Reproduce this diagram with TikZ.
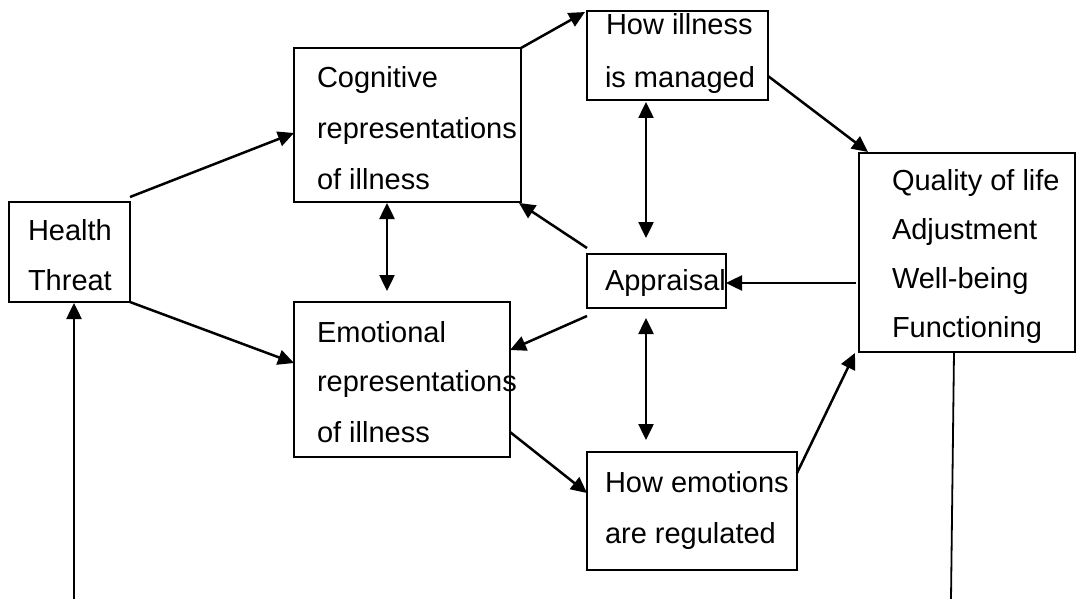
\documentclass[tikz,border=0pt]{standalone}
\usepackage{fontspec}
\setmainfont{Liberation Sans}
\usetikzlibrary{arrows.meta,calc}

\begin{document}
\begin{tikzpicture}[x=1pt,y=-1pt,
  box/.style={draw=black, line width=2pt, inner sep=0pt, outer sep=0pt,
              rectangle, anchor=north west},
  lbl/.style={anchor=base west, inner sep=0pt, outer sep=0pt,
              font=\fontsize{29}{35}\selectfont},
  tip/.style={Triangle[length=16pt,width=15pt]},
  link/.style={line width=2.5pt, -{Triangle[length=16pt,width=15pt]}},
  both/.style={line width=2.5pt, {Triangle[length=16pt,width=15pt]}-{Triangle[length=16pt,width=15pt]}},
  plain/.style={line width=1.8pt}]
\useasboundingbox (0,0) rectangle (1076,599);

% boxes
\node[box, minimum width=121pt, minimum height=100pt] (ht)  at (9,202)   {};
\node[box, minimum width=227pt, minimum height=154pt] (cog) at (294,48)  {};
\node[box, minimum width=216pt, minimum height=155pt] (emo) at (294,302) {};
\node[box, minimum width=181pt, minimum height=89pt]  (ill) at (587,11)  {};
\node[box, minimum width=139pt, minimum height=54pt]  (app) at (587,254) {};
\node[box, minimum width=216pt, minimum height=199pt] (qol) at (859,153) {};
\node[box, minimum width=210pt, minimum height=118pt] (emr) at (587,452) {};

% box texts
\node[lbl] (htA) at (28,240) {Health};
\node[lbl] (htB) at (28,290) {Threat};

\node[lbl] (cogA) at (317,88)  {Cognitive};
\node[lbl] (cogB) at (317,139) {representations};
\node[lbl] (cogC) at (317,189) {of illness};

\node[lbl] (emoA) at (317,342) {Emotional};
\node[lbl] (emoB) at (317,391) {representations};
\node[lbl] (emoC) at (317,442) {of illness};

\node[lbl] (illA) at (606,35) {How illness};
\node[lbl] (illB) at (605,88) {is managed};

\node[lbl] (appA) at (605,290) {Appraisal};

\node[lbl] (qolA) at (892,190) {Quality of life};
\node[lbl] (qolB) at (892,239) {Adjustment};
\node[lbl] (qolC) at (892,288) {Well-being};
\node[lbl] (qolD) at (892,337) {Functioning};

\node[lbl] (emrA) at (605,492) {How emotions};
\node[lbl] (emrB) at (605,543) {are regulated};

% free ends at the lower edge
\coordinate (feedin)  at (74,599);
\coordinate (feedout) at (951,599);

% connectors
\draw[link] ($(ht.north east)+(0,-5)$) -- ($(cog.west)+(0,8)$);
\draw[link] (ht.south east) -- ($(emo.west)+(0,-16.5)$);
\draw[both] ($(cog.south)+(-20.5,1)$) -- ($(emo.north)+(-15,-11)$);
\draw[link] (cog.north east) -- ($(ill.north west)+(-2,1)$);
\draw[link] ($(ill.east)+(0,20.5)$) -- ($(qol.north west)+(9,-1)$);
\draw[both] ($(ill.south)+(-31.5,2)$) -- ($(app.north)+(-10.5,-16)$);
\draw[link] ($(app.north west)+(0,-6)$) -- ($(cog.south east)+(-2,1)$);
\draw[link] ($(app.south west)+(0,8)$) -- ($(emo.east)+(0,-29.5)$);
\draw[link] ($(qol.west)+(-3,30.5)$) -- ($(app.east)+(0,2)$);
\draw[both] ($(app.south)+(-10.5,10)$) -- ($(emr.north)+(-46,-12)$);
\draw[link] ($(emo.south east)+(0,-25)$) -- ($(emr.west)+(0,-18)$);
\draw[link] ($(emr.east)+(0,-38)$) -- ($(qol.south west)+(-4,1)$);
\draw[link] (feedin) -- ($(ht.south)+(4.5,1)$);
\draw[plain] ($(qol.south)+(-13,0)$) -- (feedout);
\end{tikzpicture}
\end{document}
